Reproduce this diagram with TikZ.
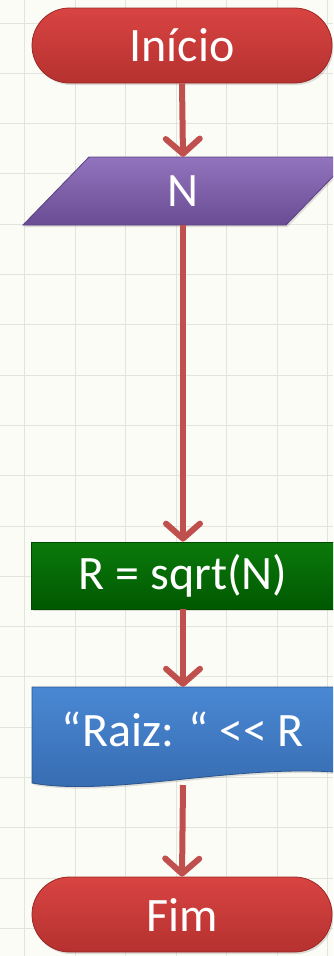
\documentclass[tikz,border=0pt]{standalone}
\usepackage{fontspec}
\setmainfont{Carlito}
\usetikzlibrary{shapes.misc,arrows.meta,shadows}
\definecolor{bgc}{HTML}{FCFCF6}
\definecolor{gridc}{HTML}{E4E4DE}
\definecolor{arrc}{HTML}{C0504D}
\definecolor{redtop}{HTML}{D84442}
\definecolor{redbot}{HTML}{B5312F}
\definecolor{redline}{HTML}{9A2826}
\definecolor{purtop}{HTML}{9274BE}
\definecolor{purbot}{HTML}{6A4C94}
\definecolor{purline}{HTML}{5A3F80}
\definecolor{grntop}{HTML}{0B7A0B}
\definecolor{grnbot}{HTML}{005800}
\definecolor{grnline}{HTML}{004A00}
\definecolor{blutop}{HTML}{4A88D4}
\definecolor{blubot}{HTML}{356AAE}
\definecolor{bluline}{HTML}{2A5590}
\tikzset{
  txt/.style={text=white, font=\fontsize{48}{52}\selectfont},
  shad/.style={drop shadow={shadow xshift=1.5pt, shadow yshift=-2pt, opacity=0.25}},
  terminator/.style={rounded rectangle, minimum width=300pt, text width=220pt, align=center,
    minimum height=75pt, inner xsep=0pt,
    top color=redtop, bottom color=redbot, draw=redline, line width=0.8pt, shad, txt},
  procbox/.style={rectangle, minimum width=303pt, minimum height=67pt,
    top color=grntop, bottom color=grnbot, draw=grnline, line width=0.8pt, shad, txt},
  conn/.style={draw=arrc, line width=6pt,
    -{Straight Barb[length=15pt, width=34pt, line width=6pt, round]}}
}
\begin{document}
\begin{tikzpicture}[x=1pt,y=-1pt]
\fill[bgc] (0,0) rectangle (333,956);
\useasboundingbox (0,0) rectangle (333,956);
\clip (0,0) rectangle (333,956);
% grid
\foreach \k in {0,...,6} \draw[gridc, line width=0.9pt] (24.5+50.5*\k,0) -- (24.5+50.5*\k,956);
\foreach \k in {0,...,18} \draw[gridc, line width=0.9pt] (0,23+50.3*\k) -- (333,23+50.3*\k);
% start
\node[terminator] (ini) at (182,45.5) {Início};
% input parallelogram
\path[shad, top color=purtop, bottom color=purbot, draw=purline, line width=0.8pt]
  (23,225) -- (89,157) -- (352,157) -- (286,225) -- cycle;
\node[txt, minimum height=68pt, inner sep=0pt] (inN) at (183,191) {N};
% process
\node[procbox] (calc) at (183,575.5) {R = sqrt(N)};
% document shape
\path[shad, top color=blutop, bottom color=blubot, draw=bluline, line width=0.8pt]
  (32,687) -- (334,687) -- (334,772)
  .. controls (230,765) and (110,797) .. (32,783) -- cycle;
\node[txt, minimum height=84pt, inner sep=0pt] (outR) at (183,729) {“Raiz: “ {<}{<} R};
\coordinate (outbot) at (183,785);
% end
\node[terminator] (fim) at (182,914.5) {Fim};
% connectors
\draw[conn] (ini.south) -- (inN.north);
\draw[conn] (inN.south) -- (calc.north);
\draw[conn] (calc.south) -- (outR.north);
\draw[conn] (outbot) -- (fim.north);
\end{tikzpicture}
\end{document}
